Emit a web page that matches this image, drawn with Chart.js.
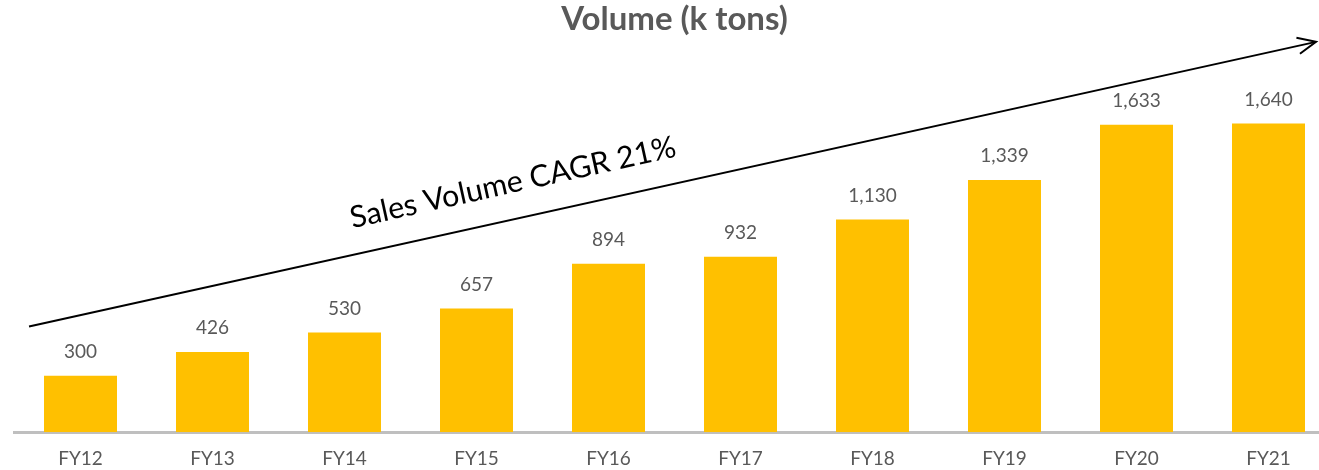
<!DOCTYPE html>
<html>
<head>
<meta charset="utf-8">
<script src="https://cdn.jsdelivr.net/npm/chart.js@4/dist/chart.umd.min.js"></script>
<style>
  html, body { margin: 0; padding: 0; background: #ffffff; overflow: hidden; }
  #wrap { width: 1336px; height: 470px; }
</style>
</head>
<body>
<div id="wrap"><canvas id="c" width="1336" height="470"></canvas></div>
<script>
const categories = ["FY12", "FY13", "FY14", "FY15", "FY16", "FY17", "FY18", "FY19", "FY20", "FY21"];
const volumes = [300, 426, 530, 657, 894, 932, 1130, 1339, 1633, 1640];
const chartTitle = "Volume (k tons)";
const arrowLabel = "Sales Volume CAGR 21%";

const GRAY = "#595959";
const BAR = "#FFC000";

const valueLabels = {
  id: "valueLabels",
  afterDatasetsDraw(chart) {
    const ctx = chart.ctx;
    const meta = chart.getDatasetMeta(0);
    ctx.save();
    ctx.fillStyle = GRAY;
    ctx.font = "19px Lato";
    ctx.textAlign = "center";
    ctx.textBaseline = "middle";
    meta.data.forEach((bar, i) => {
      ctx.fillText(volumes[i].toLocaleString("en-US"), bar.x, bar.y - 24);
    });
    ctx.restore();
  }
};

const cagrArrow = {
  id: "cagrArrow",
  afterDraw(chart) {
    const ctx = chart.ctx;
    const xs = chart.scales.x, ys = chart.scales.y;
    const step = xs.getPixelForValue(1) - xs.getPixelForValue(0);
    const x0 = xs.getPixelForValue(0) - 0.39 * step;
    const y0 = ys.getPixelForValue(561);
    const x1 = xs.getPixelForValue(9) + 0.36 * step;
    const y1 = ys.getPixelForValue(2073);
    const ang = Math.atan2(y1 - y0, x1 - x0);
    ctx.save();
    ctx.strokeStyle = "#000000";
    ctx.lineWidth = 2;
    ctx.beginPath();
    ctx.moveTo(x0, y0);
    ctx.lineTo(x1, y1);
    ctx.stroke();
    const hl = 20, ha = 0.42;
    ctx.beginPath();
    ctx.moveTo(x1 - hl * Math.cos(ang - ha), y1 - hl * Math.sin(ang - ha));
    ctx.lineTo(x1, y1);
    ctx.lineTo(x1 - hl * Math.cos(ang + ha), y1 - hl * Math.sin(ang + ha));
    ctx.stroke();
    const t = 0.382;
    const mx = x0 + (x1 - x0) * t, my = y0 + (y1 - y0) * t;
    const off = 36;
    const cx = mx + off * Math.sin(ang), cy = my - off * Math.cos(ang);
    ctx.translate(cx, cy);
    ctx.rotate(ang);
    let size = 28;
    ctx.font = size + "px Lato";
    const w = ctx.measureText(arrowLabel).width;
    size = size * 333 / w;
    ctx.font = size + "px Lato";
    ctx.fillStyle = "#000000";
    ctx.textAlign = "center";
    ctx.textBaseline = "middle";
    ctx.fillText(arrowLabel, 0, 0);
    ctx.restore();
  }
};

new Chart(document.getElementById("c"), {
  type: "bar",
  data: {
    labels: categories,
    datasets: [{
      data: volumes,
      backgroundColor: BAR,
      borderWidth: 0,
      barPercentage: 0.553,
      categoryPercentage: 1.0
    }]
  },
  options: {
    responsive: false,
    animation: false,
    layout: { padding: { left: 14.5, right: 1.5, top: 0, bottom: -15 } },
    plugins: {
      legend: { display: false },
      tooltip: { enabled: false },
      title: {
        display: true,
        text: chartTitle,
        color: GRAY,
        font: { family: "Lato", size: 33, weight: "bold" },
        padding: { top: 0, bottom: 16 }
      }
    },
    scales: {
      x: {
        grid: { display: false, drawTicks: false },
        border: { display: true, color: "#BFBFBF", width: 3 },
        ticks: { color: GRAY, font: { family: "Lato", size: 19 }, padding: 15 }
      },
      y: {
        display: false,
        min: 0,
        max: 2000
      }
    }
  },
  plugins: [valueLabels, cagrArrow]
});
</script>
</body>
</html>
